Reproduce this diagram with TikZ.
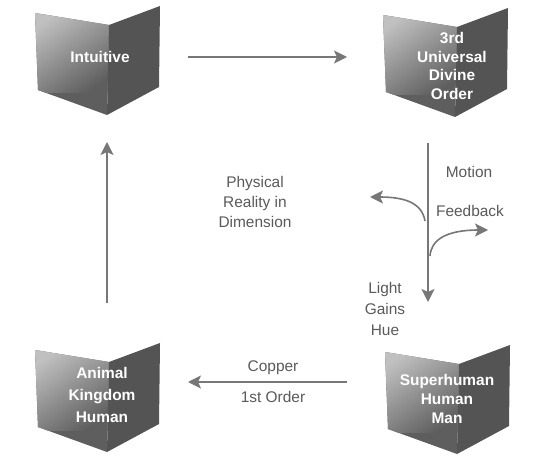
\documentclass[tikz,border=0pt]{standalone}
\usepackage{fontspec}
\setmainfont{Liberation Sans}
\usetikzlibrary{arrows.meta}
\definecolor{boxlight}{HTML}{C0C0C0}
\definecolor{boxmid}{HTML}{6A6A6A}
\definecolor{boxdark}{HTML}{5E5E5E}
\definecolor{boxright}{HTML}{545454}
\definecolor{linegray}{HTML}{777777}
\definecolor{textgray}{HTML}{5A5A5A}
\tikzset{
  bookbox/.pic={
    \fill[boxdark] (0,0) -- (74,12) -- (72,102) -- (3,77) -- cycle;
    \begin{scope}
      \clip (0,0) -- (74,12) -- (72,102) -- (3,77) -- cycle;
      \shade[top color=boxlight, middle color=boxmid, bottom color=boxdark, shading angle=35]
        (-3,-3) rectangle (80,80);
    \end{scope}
    \fill[boxright] (74,12) -- (125,-7) -- (124,74) -- (72,102) -- cycle;
  },
  boxtext/.style={text=white, font=\bfseries\fontsize{15.5}{19}\selectfont, align=center, inner sep=0pt},
  lbl/.style={text=textgray, font=\fontsize{15.5}{20}\selectfont, align=center, inner sep=0pt},
  conn/.style={draw=linegray, line width=1.6bp, -{Stealth[length=13bp,width=13bp,inset=3bp]}}
}
\begin{document}
\begin{tikzpicture}[x=1bp,y=-1bp]
\useasboundingbox (0,0) rectangle (556,456);
\fill[white] (0,0) rectangle (556,456);
% boxes
\pic at (35,13) {bookbox};
\pic at (383,15) {bookbox};
\pic at (35,350) {bookbox};
\pic at (385,352) {bookbox};
% box texts
\node[boxtext] (intuitive) at (100,57) {Intuitive};
\node[boxtext] (divine) at (452,66) {3rd\\Universal\\Divine\\Order};
\node[boxtext, font=\bfseries\fontsize{15.5}{22.5}\selectfont] (animal) at (102,395) {Animal\\Kingdom\\Human};
\node[boxtext] (superhuman) at (447,399) {Superhuman\\Human\\Man};
% labels
\node[lbl] (physical) at (255,202) {Physical\\Reality in\\Dimension};
\node[lbl] (motion) at (469,172) {Motion};
\node[lbl] (feedback) at (470,211) {Feedback};
\node[lbl, font=\fontsize{15.5}{21}\selectfont] (light) at (385,309) {Light\\Gains\\Hue};
\node[lbl] (copper) at (273,368) {Copper};
\node[lbl] (first) at (273,397) {1st Order};
% connector end points
\coordinate (t1) at (188,57);
\coordinate (t2) at (347,57);
\coordinate (l1) at (107,303);
\coordinate (l2) at (107,142);
\coordinate (b1) at (347,382);
\coordinate (b2) at (188,382);
\coordinate (r1) at (428,143);
\coordinate (r2) at (428,302);
\coordinate (c1s) at (425,221);
\coordinate (c1e) at (370,197);
\coordinate (c2s) at (430,256);
\coordinate (c2e) at (488,230);
% connectors
\draw[conn] (t1) -- (t2);
\draw[conn] (l1) -- (l2);
\draw[conn] (b1) -- (b2);
\draw[conn] (r1) -- (r2);
\draw[conn] (c1s) .. controls (422,203) and (405,197) .. (c1e);
\draw[conn] (c2s) .. controls (431,240) and (446,230) .. (c2e);
\end{tikzpicture}
\end{document}
